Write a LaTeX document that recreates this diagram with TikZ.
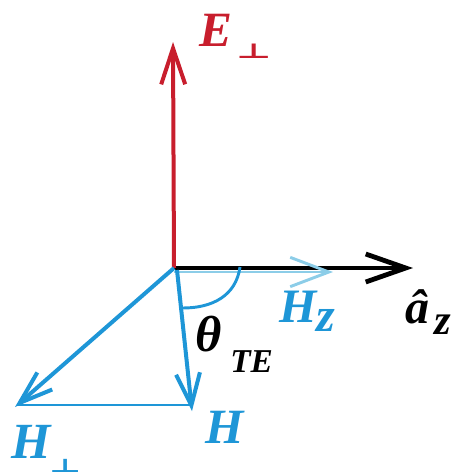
\documentclass[tikz,border=0pt]{standalone}
\usepackage{fontspec}
\setmainfont{Liberation Serif}
\newfontfamily\djv{DejaVu Sans}
\usetikzlibrary{arrows.meta}
\definecolor{ered}{RGB}{200,30,45}
\definecolor{hblue}{RGB}{30,150,215}
\definecolor{lblue}{RGB}{140,205,232}
\begin{document}
\begin{tikzpicture}[x=0.75pt,y=-0.75pt,
  lbl/.style={inner sep=0pt,font=\bfseries\itshape},
  perp/.style={inner sep=0pt,xscale=1.3,yscale=0.7},
  vec/.style={line width=3pt}]
\useasboundingbox (0,0) rectangle (456,475);
\coordinate (O) at (174,268);
\coordinate (Etip) at (173,42);
\coordinate (Ztip) at (413,268);
\coordinate (Hzs) at (174,272);
\coordinate (Hztip) at (333,272);
\coordinate (Hp) at (15,407);
\coordinate (Hs) at (177,270);
\coordinate (H) at (192,411);
\coordinate (Hpb) at (17,405);
\coordinate (Hb) at (192,405);
\coordinate (A1) at (240,267);
\coordinate (A2) at (183,308);
% axis and components
\draw[black,line width=3.6pt,-{Straight Barb[length=30pt,width=21pt]}] (O) -- (Ztip);
\draw[lblue,line width=2.2pt,-{Straight Barb[length=29pt,width=22pt]}] (Hzs) -- (Hztip);
\draw[ered,vec,-{Straight Barb[length=27pt,width=18pt]}] (O) -- (Etip);
\draw[hblue,vec,-{Straight Barb[length=25pt,width=17pt]}] (O) -- (Hp);
\draw[hblue,vec,-{Straight Barb[length=24pt,width=18pt]}] (Hs) -- (H);
\draw[hblue,line width=1.2pt] (Hpb) -- (Hb);
\draw[hblue,line width=2.2pt] (A1) .. controls (236,296) and (212,308) .. (A2);
% labels
\node[lbl,text=ered,font=\bfseries\itshape\fontsize{37}{40}\selectfont,anchor=base west] (Elbl) at (199,46) {E};
\node[perp,text=ered,font=\djv\bfseries\fontsize{22}{24}\selectfont,anchor=base west] (Eperp) at (236,58) {⊥};
\node[lbl,text=hblue,font=\bfseries\itshape\fontsize{36}{40}\selectfont,anchor=base west] (Hzlbl) at (279,322) {H};
\node[lbl,text=hblue,font=\bfseries\itshape\fontsize{36}{40}\selectfont,anchor=base west] (Hzsub) at (316,331) {z};
\node[lbl,text=black,font=\bfseries\itshape\fontsize{36}{40}\selectfont,anchor=base west] (azlbl) at (405,323) {â};
\node[lbl,text=black,font=\bfseries\itshape\fontsize{32}{40}\selectfont,anchor=base west] (azsub) at (434,334) {z};
\node[lbl,text=black,font=\bfseries\itshape\fontsize{38}{40}\selectfont,anchor=base west] (thlbl) at (195,351) {θ};
\node[lbl,text=black,font=\bfseries\itshape\fontsize{25}{28}\selectfont,anchor=base west] (telbl) at (230,372) {TE};
\node[lbl,text=hblue,font=\bfseries\itshape\fontsize{37}{40}\selectfont,anchor=base west] (Hlbl) at (205,443) {H};
\node[lbl,text=hblue,font=\bfseries\itshape\fontsize{38}{44}\selectfont,anchor=base west] (Hplbl) at (11,458) {H};
\node[perp,text=hblue,font=\djv\bfseries\fontsize{20}{22}\selectfont,anchor=base west] (Hpperp) at (49,472) {⊥};
\end{tikzpicture}
\end{document}
